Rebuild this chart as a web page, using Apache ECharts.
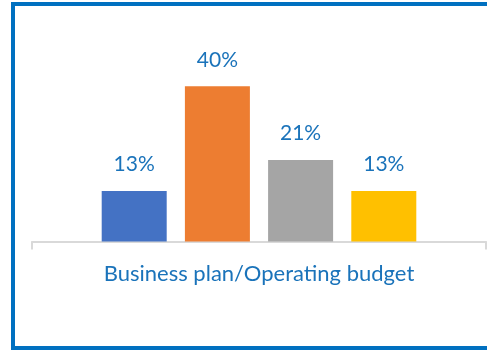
<!DOCTYPE html>
<html>
<head>
<meta charset="utf-8">
<script src="https://cdn.jsdelivr.net/npm/echarts@6/dist/echarts.min.js"></script>
<style>
  html, body { margin: 0; padding: 0; background: #fff; }
  #chart { width: 487px; height: 351px; }
</style>
</head>
<body>
<div id="chart"></div>
<script>
// One category, four shares shown as separate coloured bars
const categories = ['Business plan/Operating budget'];
const seriesNames = ['A', 'B', 'C', 'D'];
const seriesValues = [13, 40, 21, 13];
const seriesColors = ['#4472C4', '#ED7D31', '#A5A5A5', '#FFC000'];

const textBlue = '#1A73BA';
const fontFamily = 'Lato, "Open Sans", sans-serif';

const chart = echarts.init(document.getElementById('chart'), null, { renderer: 'canvas' });

const series = seriesValues.map((v, i) => ({
  name: seriesNames[i],
  type: 'bar',
  data: [v],
  barWidth: 65,
  barGap: '28%',
  itemStyle: { color: seriesColors[i] },
  label: {
    show: true,
    position: 'top',
    distance: 16,
    formatter: p => p.value + '%',
    color: textBlue,
    fontSize: 21,
    fontFamily: fontFamily
  }
}));

chart.setOption({
  animation: false,
  backgroundColor: '#fff',
  grid: { left: 32, right: 1, top: 47.5, bottom: 109.5 },
  xAxis: {
    type: 'category',
    data: categories,
    axisLine: { show: true, lineStyle: { color: '#D9D9D9', width: 2 } },
    axisTick: { show: true, length: 8, lineStyle: { color: '#D9D9D9', width: 2 } },
    axisLabel: {
      color: textBlue,
      fontSize: 22,
      fontFamily: fontFamily,
      margin: 21
    }
  },
  yAxis: {
    type: 'value',
    min: 0,
    max: 50,
    show: false
  },
  graphic: [{
    type: 'rect',
    shape: { x: 13, y: 4, width: 490, height: 344 },
    style: { fill: 'none', stroke: '#0070C0', lineWidth: 4 },
    silent: true
  }],
  series: series
});
</script>
</body>
</html>
